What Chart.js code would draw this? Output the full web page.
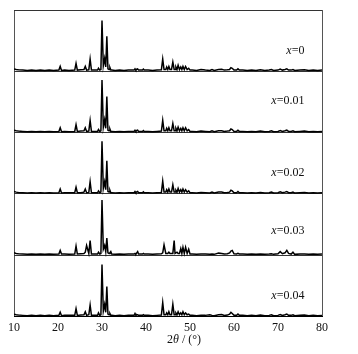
<!DOCTYPE html>
<html>
<head>
<meta charset="utf-8">
<script src="https://cdn.jsdelivr.net/npm/chart.js@4"></script>
<style>
body{margin:0;background:#fff;}
canvas{display:block;}
</style>
</head>
<body>
<canvas id="xrd" width="358" height="354"></canvas>
<script>
/* 2theta grid (deg) */
let twoTheta = [
10, 10.5, 11, 12, 13, 14, 15, 16, 17, 18, 19,
20.2, 20.5, 20.8, 21.5, 22.5, 23.8, 24.1, 24.4, 25.2, 25.9, 26.2, 26.5, 27.0, 27.3, 27.6,
28.3, 29.0, 29.2, 29.5, 29.75, 30.0, 30.3, 30.6, 30.85, 31.1, 31.35, 31.6, 31.8, 32.0, 32.2,
33, 34, 35, 36, 37.3, 37.5, 37.7, 37.9, 38.1, 38.3, 39.2, 39.4, 39.6,
40.5, 41.5, 42.5, 43.5, 43.8, 44.1, 44.5, 44.7, 44.95, 45.2, 45.45, 45.8, 46.1, 46.4, 46.6, 46.8, 47.05, 47.3, 47.6, 47.9, 48.15, 48.4, 48.7, 49.0, 49.35, 49.7, 50.0, 50.5,
51.5, 52.5, 53.5, 54.5, 55.0, 55.5, 56.5, 57.2, 57.8, 58.5, 59.0, 59.3, 59.6, 60.0, 60.6, 60.9, 61.2,
62, 63, 64, 65, 66, 67, 68, 68.5, 69, 70, 70.5, 71, 71.6, 72.0, 72.4, 73, 73.4, 73.8, 75, 76, 77, 78, 79, 80
];

/* intensities, one panel = 100 */
let x0 = [
4, 3, 2.5, 2, 1.5, 2, 1.5, 2, 1.5, 2, 1.5,
2, 8, 1.5, 2, 1.5, 2, 13, 2, 2.5, 3, 8, 2, 2.5, 20, 2,
2, 2, 5, 2, 3, 83, 9, 21, 7, 57, 4, 3, 6, 2, 2,
1.5, 2, 1.5, 2, 2, 4, 2, 3.5, 4, 2, 2, 3.5, 2,
2, 1.5, 2, 2.5, 20, 3, 3, 7, 3, 8, 3, 3, 15, 3, 3, 7, 3, 10, 3, 7, 3, 8, 3, 8, 3, 5, 2, 2,
1.5, 3, 2, 1.5, 3, 1.5, 3, 3.5, 2, 2.5, 3, 6, 5, 2, 2, 4, 2,
2, 1.5, 2, 1.5, 2.5, 1.5, 2, 3, 1.5, 2, 3.5, 2, 3, 4, 2, 2, 3, 1.5, 2, 2.5, 1.5, 2, 1.5, 2
];
let x001 = [
4, 3, 2.5, 2, 1.5, 2, 1.5, 2, 1.5, 2, 1.5,
2, 8, 1.5, 2, 1.5, 2, 13, 2, 2.5, 3, 8, 2, 2.5, 20, 2,
2, 2, 5, 2, 3, 86, 9, 21, 7, 59, 4, 3, 6, 2, 2,
1.5, 2, 1.5, 2, 2, 4, 2, 3.5, 4, 2, 2, 3.5, 2,
2, 1.5, 2, 2.5, 20, 3, 3, 7, 3, 8, 3, 3, 15, 3, 3, 7, 3, 9, 3, 7, 3, 8, 3, 8, 3, 5, 2, 2,
1.5, 2.5, 2, 1.5, 3, 1.5, 3, 3, 2, 2.5, 3, 6, 5, 2, 2, 4, 2,
2, 1.5, 2, 1.5, 2.5, 1.5, 2, 3, 1.5, 2, 3.5, 2, 3, 4, 2, 2, 3, 1.5, 2, 2.5, 1.5, 2, 1.5, 2
];
let x002 = [
4, 3, 2.5, 2, 1.5, 2, 1.5, 2, 1.5, 2, 1.5,
2, 8, 1.5, 2, 2, 2, 11, 2, 2, 3, 8, 2, 2.5, 20, 2,
2, 2, 5, 2, 3, 86, 9, 20, 7, 54, 4, 3, 6, 2, 2,
1.5, 2, 1.5, 2, 2, 4, 2, 3.5, 4, 2, 2, 3.5, 2,
2, 1.5, 2, 2.5, 21, 3, 3, 7, 3, 8, 3, 3, 15, 3, 3, 6, 3, 9, 3, 7, 3, 8, 3, 7, 3, 5, 2, 2,
1.5, 2.5, 2, 1.5, 3, 1.5, 3, 3, 2, 2.5, 3, 6, 5, 2, 2, 4, 2,
2, 1.5, 2, 1.5, 2.5, 1.5, 2, 3, 1.5, 2, 3.5, 2, 3, 4, 2, 2, 3, 1.5, 2, 2.5, 1.5, 2, 1.5, 2
];
let x003 = [
4, 3, 2.5, 2, 1.5, 2, 1.5, 2, 1.5, 2, 1.5,
2, 8, 2, 2, 1.5, 2, 15, 2, 2.5, 3, 5, 16, 3, 24, 2,
2, 2, 5, 2, 3, 90, 10, 16, 6, 28, 4, 3, 4, 6, 2,
1.5, 2, 1.5, 2, 2, 3, 2, 4, 6, 2, 2, 3, 2,
2, 1.5, 2, 2.5, 4, 17, 3, 3, 3, 5, 3, 3, 3, 24, 3, 3, 5, 3, 3, 11, 3, 13, 3, 13, 3, 10, 2, 2,
1.5, 2, 2, 1.5, 2, 1.5, 3.5, 3, 2, 2.5, 4, 7, 8, 2.5, 2, 3, 2,
2, 1.5, 2, 1.5, 2, 1.5, 2, 2.5, 1.5, 2.5, 6, 2.5, 4, 8, 3, 2, 5, 1.5, 2, 2, 1.5, 2, 1.5, 2
];
let x004 = [
4, 3, 2.5, 2, 1.5, 2, 1.5, 2, 1.5, 2, 1.5,
2, 7, 1.5, 2, 2, 2, 13, 2, 2.5, 3, 8, 2, 3, 19, 2,
2, 2, 6, 2, 3, 85, 9, 20, 7, 49, 4, 3, 5, 2, 2,
1.5, 2, 1.5, 2, 2, 5, 2, 3, 3, 2, 2, 3, 2,
2, 1.5, 2, 2.5, 23, 3, 3, 6, 3, 8, 3, 3, 20, 3, 3, 6, 3, 8, 3, 6, 3, 8, 3, 6, 3, 4, 2, 2,
1.5, 2, 2, 3, 2, 1.5, 3, 3.5, 2, 2.5, 4, 7, 5, 2, 2, 4, 2,
2, 1.5, 2, 1.5, 2.5, 1.5, 2, 3, 1.5, 2, 3.5, 2, 3, 4, 2, 2, 3, 1.5, 2, 2.5, 1.5, 2, 1.5, 2
];

let sampleLabels = ["0", "0.01", "0.02", "0.03", "0.04"];
let samples = [x0, x001, x002, x003, x004];
let xTicks = [10, 20, 30, 40, 50, 60, 70, 80];

/* where the x= labels sit inside each panel (panel units) */
let labelLevel = [33, 52, 35, 40, 34];

let panel = 100;
let nPanels = samples.length;

let datasets = samples.map((s, i) => {
    let offset = (nPanels - 1 - i) * panel;
    return {
        data: twoTheta.map((t, k) => ({x: t, y: s[k] + offset})),
        borderColor: "#000",
        borderWidth: 1.5,
        pointRadius: 0,
        tension: 0,
        fill: false
    };
});

/* x= labels and axis title */
let textPlugin = {
    id: "texts",
    afterDraw(chart){
        let ctx = chart.ctx;
        let xs = chart.scales.x, ys = chart.scales.y;
        ctx.save();
        ctx.fillStyle = "#111";
        ctx.textBaseline = "middle";
        ctx.textAlign = "left";
        sampleLabels.forEach((lab, i) => {
            let offset = (nPanels - 1 - i) * panel;
            let y = ys.getPixelForValue(offset + labelLevel[i]);
            let right = xs.getPixelForValue(76);
            ctx.font = "12px 'Liberation Serif'";
            let rest = "=" + lab;
            let w = ctx.measureText(rest).width;
            ctx.fillText(rest, right - w, y);
            ctx.font = "italic 12px 'Liberation Serif'";
            let wx = ctx.measureText("x").width;
            ctx.fillText("x", right - w - wx, y);
        });
        // axis title 2θ / (°)
        let cx = (chart.chartArea.left + chart.chartArea.right) / 2 + 16;
        let ty = chart.chartArea.bottom + 23;
        ctx.font = "italic 12px 'Liberation Serif'";
        let wt = ctx.measureText("θ").width;
        ctx.font = "12px 'Liberation Serif'";
        let a = "2", b = " / (°)";
        let wa = ctx.measureText(a).width, wb = ctx.measureText(b).width;
        let x = cx - (wa + wt + wb) / 2;
        ctx.fillText(a, x, ty);
        ctx.fillText(b, x + wa + wt, ty);
        ctx.font = "italic 12px 'Liberation Serif'";
        ctx.fillText("θ", x + wa, ty);
        ctx.restore();
    }
};

new Chart(document.getElementById("xrd"), {
    type: "line",
    data: {datasets: datasets},
    options: {
        responsive: false,
        animation: false,
        layout: {padding: {left: 14, right: 36, top: 10, bottom: 15}},
        plugins: {legend: {display: false}, tooltip: {enabled: false}},
        scales: {
            x: {
                type: "linear",
                min: 10, max: 80,
                afterBuildTicks: axis => { axis.ticks = xTicks.map(v => ({value: v})); },
                ticks: {color: "#111", font: {family: "'Liberation Serif'", size: 12}, padding: 4},
                grid: {
                    drawTicks: false,
                    color: c => (c.tick && (c.tick.value === 10 || c.tick.value === 80)) ? "#555" : "rgba(0,0,0,0)"
                },
                border: {color: "#000", width: 1}
            },
            y: {
                min: 0, max: nPanels * panel,
                ticks: {display: false, stepSize: panel},
                grid: {drawTicks: false, color: "#333", lineWidth: 1},
                border: {display: false}
            }
        }
    },
    plugins: [textPlugin]
});
</script>
</body>
</html>
